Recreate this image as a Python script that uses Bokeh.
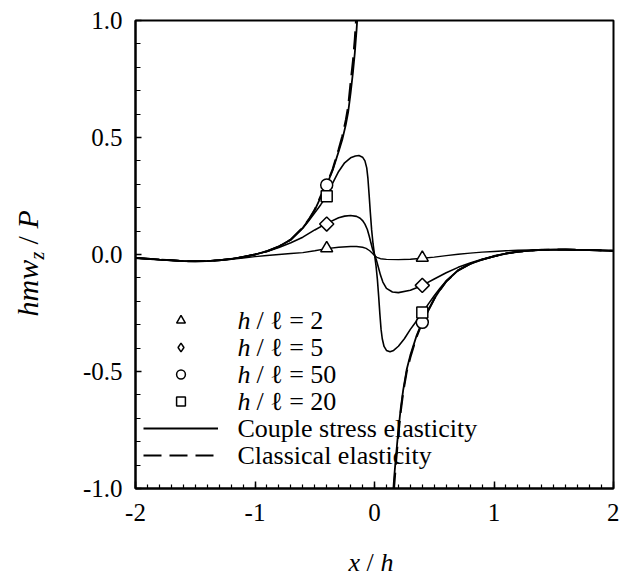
import numpy as np
from bokeh.plotting import figure
from bokeh.models import Range1d, FixedTicker, Label, Legend, LegendItem
from bokeh.layouts import column, row
from bokeh.embed import file_html
from bokeh.resources import INLINE

NaN = float("nan")

# ---------------- data ----------------
x_ticks = [-2, -1, 0, 1, 2]
x_tick_labels = ["-2", "-1", "0", "1", "2"]
y_ticks = [-1.0, -0.5, 0.0, 0.5, 1.0]
y_tick_labels = ["-1.0", "-0.5", "0.0", "0.5", "1.0"]

# Classical elasticity (two branches, singular at x = 0)
x_cl = [-2.0, -1.9, -1.8, -1.7, -1.6, -1.5, -1.4, -1.3, -1.2, -1.1, -1.0, -0.9, -0.8, -0.7,
        -0.6, -0.55, -0.5, -0.45, -0.4, -0.35, -0.3, -0.27, -0.24, -0.22, -0.2, -0.18,
        -0.165, -0.15, -0.14, NaN,
        0.15, 0.165, 0.18, 0.2, 0.22, 0.24, 0.27, 0.3, 0.35, 0.4, 0.45, 0.5, 0.55, 0.6,
        0.7, 0.8, 0.9, 1.0, 1.1, 1.2, 1.3, 1.4, 1.5, 1.6, 1.7, 1.8, 1.9, 2.0]
y_cl = [-0.015, -0.018, -0.022, -0.025, -0.028, -0.029, -0.028, -0.025, -0.019, -0.011,
        0.000, 0.014, 0.034, 0.064, 0.115, 0.150, 0.192, 0.250, 0.300, 0.365, 0.450,
        0.505, 0.575, 0.635, 0.735, 0.830, 0.920, 1.040, 1.130, NaN,
        -1.120, -0.990, -0.890, -0.770, -0.670, -0.590, -0.500, -0.440, -0.355, -0.290,
        -0.240, -0.190, -0.150, -0.115, -0.068, -0.040, -0.022, -0.008, 0.004, 0.012,
        0.017, 0.020, 0.021, 0.021, 0.020, 0.019, 0.017, 0.016]

# Couple stress, h/l = 50
x_50 = [-2.0, -1.9, -1.8, -1.7, -1.6, -1.5, -1.4, -1.3, -1.2, -1.1, -1.0, -0.9, -0.8, -0.7,
        -0.6, -0.55, -0.5, -0.45, -0.4, -0.35, -0.3, -0.27, -0.24, -0.22, -0.2, -0.18,
        -0.165, -0.15, -0.14, -0.13, NaN,
        0.14, 0.15, 0.165, 0.18, 0.2, 0.22, 0.24, 0.27, 0.3, 0.35, 0.4, 0.45, 0.5, 0.55, 0.6,
        0.7, 0.8, 0.9, 1.0, 1.1, 1.2, 1.3, 1.4, 1.5, 1.6, 1.7, 1.8, 1.9, 2.0]
y_50 = [-0.015, -0.018, -0.022, -0.025, -0.028, -0.029, -0.028, -0.025, -0.019, -0.011,
        0.000, 0.014, 0.034, 0.064, 0.114, 0.148, 0.190, 0.245, 0.297, 0.360, 0.440,
        0.490, 0.555, 0.610, 0.690, 0.780, 0.860, 0.960, 1.040, 1.120, NaN,
        -1.130, -1.060, -0.950, -0.860, -0.750, -0.655, -0.580, -0.490, -0.430, -0.350,
        -0.287, -0.238, -0.189, -0.150, -0.115, -0.068, -0.040, -0.022, -0.008, 0.004,
        0.012, 0.017, 0.020, 0.021, 0.021, 0.020, 0.019, 0.017, 0.016]

# Couple stress, h/l = 20
x_20 = [-2.0, -1.8, -1.6, -1.5, -1.4, -1.2, -1.0, -0.9, -0.8, -0.7, -0.6, -0.55, -0.5, -0.45,
        -0.4, -0.35, -0.3, -0.25, -0.2, -0.16, -0.13, -0.1, -0.08, -0.065, -0.055, -0.045,
        -0.035, -0.024, -0.012, 0.0, 0.012, 0.024, 0.035, 0.045, 0.055, 0.065, 0.08, 0.1,
        0.13, 0.16, 0.2, 0.25, 0.3, 0.35, 0.4, 0.45, 0.5, 0.55, 0.6, 0.7, 0.8, 0.9, 1.0,
        1.1, 1.2, 1.4, 1.6, 1.8, 2.0]
y_20 = [-0.015, -0.022, -0.028, -0.029, -0.028, -0.019, 0.000, 0.014, 0.034, 0.063, 0.112,
        0.144, 0.178, 0.213, 0.250, 0.305, 0.355, 0.392, 0.413, 0.421, 0.423, 0.416, 0.400,
        0.370, 0.325, 0.255, 0.180, 0.105, 0.045, 0.000, -0.045, -0.105, -0.180, -0.255,
        -0.320, -0.360, -0.393, -0.410, -0.416, -0.410, -0.392, -0.360, -0.320, -0.285,
        -0.250, -0.212, -0.176, -0.143, -0.113, -0.067, -0.040, -0.022, -0.008, 0.004,
        0.012, 0.020, 0.021, 0.019, 0.016]

# Couple stress, h/l = 5
x_5 = [-2.0, -1.8, -1.6, -1.5, -1.4, -1.2, -1.1, -1.0, -0.9, -0.8, -0.7, -0.6, -0.5, -0.4,
       -0.3, -0.25, -0.2, -0.15, -0.12, -0.1, -0.08, -0.06, -0.045, -0.03, -0.015, 0.0,
       0.015, 0.03, 0.05, 0.07, 0.1, 0.15, 0.2, 0.3, 0.4, 0.5, 0.6, 0.7, 0.8, 0.9, 1.0,
       1.1, 1.2, 1.4, 1.6, 1.8, 2.0]
y_5 = [-0.015, -0.022, -0.028, -0.029, -0.028, -0.019, -0.011, 0.000, 0.013, 0.030, 0.050,
       0.074, 0.105, 0.133, 0.157, 0.164, 0.167, 0.163, 0.155, 0.145, 0.130, 0.107, 0.080,
       0.050, 0.020, 0.000, -0.022, -0.050, -0.088, -0.118, -0.145, -0.160, -0.163,
       -0.153, -0.132, -0.105, -0.078, -0.055, -0.036, -0.020, -0.006, 0.004, 0.012,
       0.020, 0.021, 0.019, 0.016]

# Couple stress, h/l = 2
x_2 = [-2.0, -1.8, -1.6, -1.5, -1.4, -1.3, -1.2, -1.1, -1.0, -0.9, -0.8, -0.7, -0.6, -0.5,
       -0.4, -0.3, -0.2, -0.15, -0.1, -0.07, -0.04, -0.02, 0.0, 0.02, 0.05, 0.1, 0.2, 0.3,
       0.4, 0.5, 0.6, 0.7, 0.8, 0.9, 1.0, 1.1, 1.2, 1.3, 1.4, 1.5, 1.6, 1.8, 2.0]
y_2 = [-0.015, -0.022, -0.028, -0.029, -0.028, -0.025, -0.020, -0.015, -0.009, -0.004,
       0.000, 0.004, 0.008, 0.016, 0.025, 0.031, 0.034, 0.034, 0.031, 0.026, 0.016, 0.006,
       -0.004, -0.012, -0.018, -0.021, -0.022, -0.020, -0.016, -0.011, -0.005, 0.001,
       0.006, 0.010, 0.013, 0.016, 0.018, 0.019, 0.020, 0.021, 0.021, 0.019, 0.016]

# Marker positions
mk_x = [-0.4, 0.4]
mk_y_2 = [0.027, -0.014]
mk_y_5 = [0.130, -0.132]
mk_y_50 = [0.297, -0.290]
mk_y_20 = [0.249, -0.248]

legend_labels = [("h", "/ \u2113 = 2"), ("h", "/ \u2113 = 5"), ("h", "/ \u2113 = 50"),
                 ("h", "/ \u2113 = 20"), ("", "Couple stress elasticity"),
                 ("", "Classical elasticity")]

FONT = "Liberation Serif"

# ---------------- main figure ----------------
p = figure(width=559, height=538, output_backend="svg", toolbar_location=None,
           x_range=Range1d(-2, 2), y_range=Range1d(-1, 1),
           min_border_left=75, min_border_right=6, min_border_top=20, min_border_bottom=50)
p.grid.visible = False
p.outline_line_color = "black"
p.outline_line_width = 2
p.background_fill_color = "white"
p.border_fill_color = "white"

x_minor = [round(v, 2) for v in np.arange(-2, 2.0001, 0.1)]
y_minor = [round(v, 2) for v in np.arange(-1, 1.0001, 0.1)]
p.xaxis.ticker = FixedTicker(ticks=x_ticks, minor_ticks=x_minor)
p.yaxis.ticker = FixedTicker(ticks=y_ticks, minor_ticks=y_minor)
p.xaxis.major_label_overrides = {t: l for t, l in zip(x_ticks, x_tick_labels)}
p.yaxis.major_label_overrides = {t: l for t, l in zip(y_ticks, y_tick_labels)}

for ax in (p.xaxis[0], p.yaxis[0]):
    ax.axis_line_color = "black"
    ax.axis_line_width = 2
    ax.major_tick_line_color = "black"
    ax.minor_tick_line_color = "black"
    ax.major_tick_line_width = 1.5
    ax.minor_tick_line_width = 1.2
    ax.major_tick_out = 0
    ax.minor_tick_out = 0
    ax.major_label_text_font = FONT
    ax.major_label_text_font_size = "25px"
    ax.major_label_text_color = "black"
p.xaxis.major_tick_in = 7
p.xaxis.minor_tick_in = 4
p.yaxis.major_tick_in = 6
p.yaxis.minor_tick_in = 5
p.xaxis.major_label_standoff = 15
p.yaxis.major_label_standoff = 13

# curves
r_cl = p.line(x_cl, y_cl, line_color="black", line_width=2, line_dash="18 8")
r_50 = p.line(x_50, y_50, line_color="black", line_width=1.8)
p.line(x_20, y_20, line_color="black", line_width=1.6)
p.line(x_5, y_5, line_color="black", line_width=1.6)
p.line(x_2, y_2, line_color="black", line_width=1.4)

mk_kw = dict(line_color="black", fill_color="white", line_width=1.5)
r_m2 = p.scatter(mk_x, mk_y_2, marker="triangle", size=12, **mk_kw)
p.scatter(mk_x, mk_y_5, marker="square", size=10, angle=np.pi / 4, **mk_kw)
# legend sample for the diamond (a point with no position, so nothing is drawn in the plot)
r_m5 = p.scatter([NaN], [NaN], marker="diamond", size=14, **mk_kw)
r_m50 = p.scatter(mk_x, mk_y_50, marker="circle", size=12, **mk_kw)
r_m20 = p.scatter(mk_x, mk_y_20, marker="square", size=11, **mk_kw)

renderers = [r_m2, r_m5, r_m50, r_m20, r_50, r_cl]
legend = Legend(items=[LegendItem(label=" ", renderers=[r], index=0) for r in renderers],
                location=(8, 22), glyph_width=75, glyph_height=22, spacing=5,
                padding=0, margin=0, border_line_color=None, background_fill_alpha=0,
                label_text_font_size="1px", label_height=22, label_width=0,
                label_standoff=0)
p.add_layout(legend)

# legend texts (screen units, relative to the plot frame)
row_top = 168
for i, (it, rest) in enumerate(legend_labels):
    y = row_top - 27 * i
    if it:
        p.add_layout(Label(x=102, y=y, x_units="screen", y_units="screen", text=it,
                           text_font=FONT, text_font_size="26px", text_font_style="italic",
                           text_baseline="middle", text_color="black"))
        p.add_layout(Label(x=121, y=y, x_units="screen", y_units="screen", text=rest,
                           text_font=FONT, text_font_size="26px",
                           text_baseline="middle", text_color="black"))
    else:
        p.add_layout(Label(x=102, y=y, x_units="screen", y_units="screen", text=rest,
                           text_font=FONT, text_font_size="26px",
                           text_baseline="middle", text_color="black"))

# ---------------- y-axis title strip ----------------
fy = figure(width=60, height=538, output_backend="svg", toolbar_location=None,
            x_range=Range1d(0, 60), y_range=Range1d(0, 538),
            x_axis_location=None, y_axis_location=None, min_border=0)
fy.grid.visible = False
fy.outline_line_color = None
ang = np.pi / 2
yl_x = 43
yl_kw = dict(x_units="screen", y_units="screen", angle=ang, text_color="black",
             text_font=FONT, text_baseline="bottom", text_align="left")
fy.add_layout(Label(x=yl_x, y=172, text="hmw", text_font_size="30px",
                    text_font_style="italic", **yl_kw))
fy.add_layout(Label(x=yl_x + 4, y=229, text="z", text_font_size="20px",
                    text_font_style="italic", **yl_kw))
fy.add_layout(Label(x=yl_x, y=244, text="/", text_font_size="30px", **yl_kw))
fy.add_layout(Label(x=yl_x, y=260, text="P", text_font_size="30px",
                    text_font_style="italic", **yl_kw))

# ---------------- x-axis title strip ----------------
fx = figure(width=619, height=38, output_backend="svg", toolbar_location=None,
            x_range=Range1d(0, 619), y_range=Range1d(0, 38),
            x_axis_location=None, y_axis_location=None, min_border=0)
fx.grid.visible = False
fx.outline_line_color = None
xl_kw = dict(x_units="screen", y_units="screen", text_color="black", text_font=FONT,
             text_font_size="26px", text_baseline="bottom")
xl_y = 0
fx.add_layout(Label(x=348, y=xl_y, text="x", text_font_style="italic", **xl_kw))
fx.add_layout(Label(x=366, y=xl_y, text="/", **xl_kw))
fx.add_layout(Label(x=380, y=xl_y, text="h", text_font_style="italic", **xl_kw))

layout = column(row(fy, p, spacing=0), fx, spacing=0)
open("out.html", "w").write(file_html(layout, INLINE))
